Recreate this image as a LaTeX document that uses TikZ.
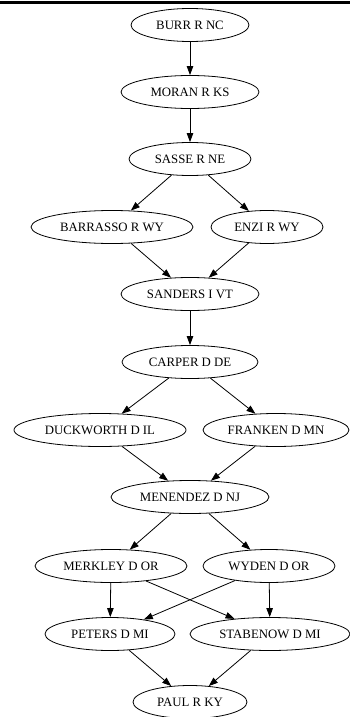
\documentclass[tikz,border=0pt]{standalone}
\usepackage{fontspec}
\setmainfont{Liberation Serif}
\usetikzlibrary{shapes.geometric,arrows.meta}
\begin{document}
\begin{tikzpicture}[x=1pt,y=-1pt,
  nd/.style={draw, ellipse, inner sep=0pt, line width=0.8pt, minimum height=33pt, font=\fontsize{12.8}{14}\selectfont},
  ed/.style={-{Triangle[length=9pt,width=6.5pt]}, line width=0.8pt}]
\useasboundingbox (0,0) rectangle (350,717);
\draw[line width=3pt] (0,2.5) -- (350,2.5);
\node[nd, minimum width=118pt] (burr) at (190,25) {BURR R NC};
\node[nd, minimum width=138pt] (moran) at (190,92) {MORAN R KS};
\node[nd, minimum width=122pt] (sasse) at (190,159) {SASSE R NE};
\node[nd, minimum width=162pt] (barrasso) at (112,227) {BARRASSO R WY};
\node[nd, minimum width=112pt] (enzi) at (267,227) {ENZI R WY};
\node[nd, minimum width=138pt] (sanders) at (190,294) {SANDERS I VT};
\node[nd, minimum width=136pt] (carper) at (190,362) {CARPER D DE};
\node[nd, minimum width=172pt] (duckworth) at (100,430) {DUCKWORTH D IL};
\node[nd, minimum width=146pt] (franken) at (276,430) {FRANKEN D MN};
\node[nd, minimum width=158pt] (menendez) at (190,497) {MENENDEZ D NJ};
\node[nd, minimum width=152pt] (merkley) at (111,566) {MERKLEY D OR};
\node[nd, minimum width=132pt] (wyden) at (269,566) {WYDEN D OR};
\node[nd, minimum width=130pt] (peters) at (110,634) {PETERS D MI};
\node[nd, minimum width=160pt] (stabenow) at (270,634) {STABENOW D MI};
\node[nd, minimum width=114pt] (paul) at (190,702) {PAUL R KY};
\draw[ed] (burr) -- (moran);
\draw[ed] (moran) -- (sasse);
\draw[ed] (sasse) -- (barrasso);
\draw[ed] (sasse) -- (enzi);
\draw[ed] (barrasso) -- (sanders);
\draw[ed] (enzi) -- (sanders);
\draw[ed] (sanders) -- (carper);
\draw[ed] (carper) -- (duckworth);
\draw[ed] (carper) -- (franken);
\draw[ed] (duckworth) -- (menendez);
\draw[ed] (franken) -- (menendez);
\draw[ed] (menendez) -- (merkley);
\draw[ed] (menendez) -- (wyden);
\draw[ed] (merkley) -- (peters);
\draw[ed] (merkley) -- (stabenow);
\draw[ed] (wyden) -- (peters);
\draw[ed] (wyden) -- (stabenow);
\draw[ed] (peters) -- (paul);
\draw[ed] (stabenow) -- (paul);
\end{tikzpicture}
\end{document}
